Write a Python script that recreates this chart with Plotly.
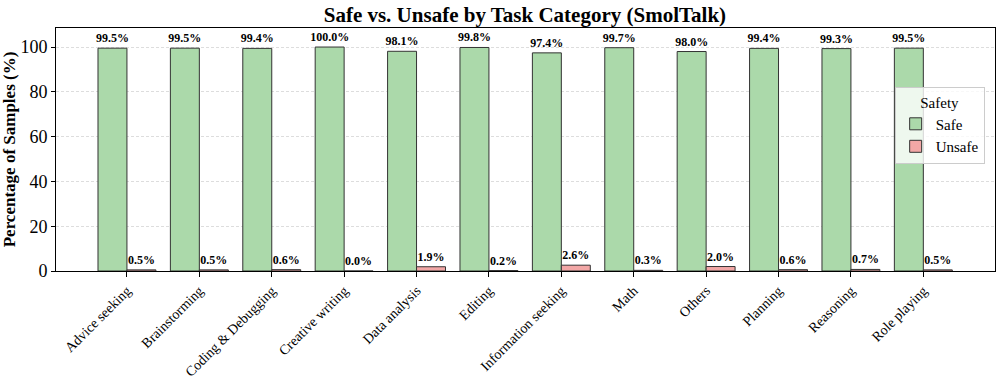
import plotly.graph_objects as go

# Task categories and safety shares (%)
categories = ['Advice seeking', 'Brainstorming', 'Coding & Debugging', 'Creative writing',
              'Data analysis', 'Editing', 'Information seeking', 'Math', 'Others',
              'Planning', 'Reasoning', 'Role playing']
safe_pct = [99.5, 99.5, 99.4, 100.0, 98.1, 99.8, 97.4, 99.7, 98.0, 99.4, 99.3, 99.5]
unsafe_pct = [0.5, 0.5, 0.6, 0.0, 1.9, 0.2, 2.6, 0.3, 2.0, 0.6, 0.7, 0.5]

FONT = 'Liberation Serif'

fig = go.Figure()

fig.add_trace(go.Bar(
    x=categories, y=safe_pct, name='Safe',
    marker=dict(color='#abd9aa', line=dict(color='#333333', width=1)),
    text=[f'<b>{v:.1f}%</b>' for v in safe_pct], textposition='outside',
    textfont=dict(family=FONT, size=12, color='black'), cliponaxis=False,
    constraintext='none',
))
fig.add_trace(go.Bar(
    x=categories, y=unsafe_pct, name='Unsafe',
    marker=dict(color='#f2a7a6', line=dict(color='#333333', width=1)),
    text=[f'<b>{v:.1f}%</b>' for v in unsafe_pct], textposition='outside',
    textfont=dict(family=FONT, size=12, color='black'), cliponaxis=False,
    constraintext='none',
))

fig.update_layout(
    width=996, height=380,
    barmode='group', bargap=0.2, bargroupgap=0,
    plot_bgcolor='white', paper_bgcolor='white',
    font=dict(family=FONT, color='black'),
    margin=dict(l=56, r=1, t=28, b=109),
    title=dict(text='<b>Safe vs. Unsafe by Task Category (SmolTalk)</b>',
               x=0.527, xanchor='center', y=0.962, yanchor='middle',
               font=dict(family=FONT, size=21)),
    legend=dict(
        title=dict(text='Safety', side='top center', font=dict(family=FONT, size=15)),
        font=dict(family=FONT, size=15),
        x=0.989, xanchor='right', y=0.757, yanchor='top',
        bgcolor='rgba(255,255,255,0.8)', bordercolor='#cccccc', borderwidth=1,
    ),
)

fig.update_xaxes(
    range=[-0.98, 11.99], tickangle=-45, tickfont=dict(family=FONT, size=14),
    showline=True, linecolor='black', linewidth=1, mirror=True,
    ticks='outside', ticklen=5, tickcolor='black', showgrid=False, automargin=False,
)
fig.update_yaxes(
    range=[0, 108.5], tickvals=[0, 20, 40, 60, 80, 100],
    tickfont=dict(family=FONT, size=18),
    title=dict(text='<b>Percentage of Samples (%)</b>', font=dict(family=FONT, size=17), standoff=4),
    showline=True, linecolor='black', linewidth=1, mirror=True,
    ticks='outside', ticklen=4, tickcolor='black', automargin=False,
    showgrid=True, gridcolor='#dddddd', griddash='3px,2px', gridwidth=0.8, zeroline=False,
)

# drop the browser's default 8px body margin so the figure sits at the page corner
fig.write_html('out.html', config={'displayModeBar': False},
               post_script="document.body.style.margin = '0';")
